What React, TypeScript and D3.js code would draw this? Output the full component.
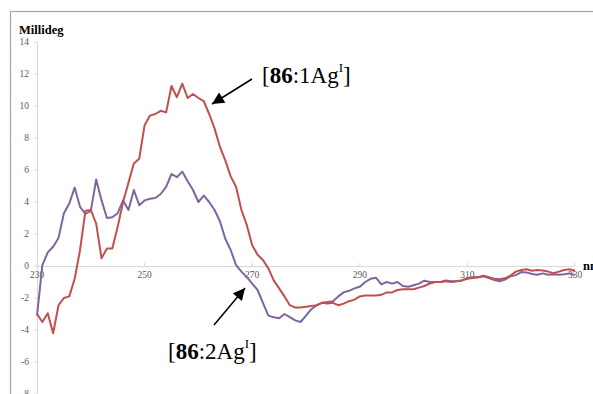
import React from "react";
import * as d3 from "d3";

const wavelengths: number[] = d3.range(230, 331);

const red1Ag: number[] = [
  -3.0, -3.5, -2.95, -4.2, -2.45, -2.0, -1.9, -0.8, 1.0, 3.45,
  3.5, 2.65, 0.48, 1.1, 1.1, 2.45, 4.0, 5.2, 6.4, 6.7,
  8.8, 9.4, 9.5, 9.7, 9.6, 11.25, 10.55, 11.4, 10.5, 10.75,
  10.5, 10.3, 9.5, 8.6, 7.45, 6.6, 5.6, 4.95, 3.5, 2.55,
  1.3, 0.7, 0.38, -0.15, -0.9, -1.4, -1.9, -2.45, -2.6, -2.6,
  -2.55, -2.5, -2.45, -2.3, -2.35, -2.3, -2.45, -2.35, -2.2, -2.1,
  -1.9, -1.85, -1.85, -1.85, -1.8, -1.65, -1.65, -1.5, -1.45, -1.45,
  -1.45, -1.35, -1.25, -1.1, -1.0, -1.0, -0.95, -1.0, -0.95, -0.9,
  -0.8, -0.75, -0.7, -0.6, -0.7, -0.8, -0.83, -0.77, -0.6, -0.35,
  -0.25, -0.2, -0.3, -0.25, -0.28, -0.35, -0.45, -0.35, -0.25, -0.2,
  -0.3,
];

const purple2Ag: number[] = [
  -3.1, 0.05, 0.85, 1.2, 1.75, 3.3, 3.9, 4.9, 3.7, 3.25,
  3.45, 5.4, 4.1, 3.0, 3.05, 3.3, 4.1, 3.5, 4.75, 3.8,
  4.1, 4.2, 4.25, 4.5, 4.95, 5.75, 5.55, 5.9, 5.3, 4.75,
  4.0, 4.4, 4.0, 3.5, 2.8, 1.7, 1.0, 0.06, -0.35, -0.7,
  -1.1, -1.5, -2.3, -3.1, -3.2, -3.27, -3.0, -3.2, -3.4, -3.5,
  -3.1, -2.7, -2.45, -2.3, -2.25, -2.2, -1.9, -1.65, -1.55, -1.4,
  -1.3, -1.0, -0.8, -0.73, -1.15, -1.0, -1.1, -1.0, -1.25, -1.3,
  -1.2, -1.1, -0.92, -1.0, -1.0, -1.0, -0.9, -0.95, -0.95, -0.9,
  -0.75, -0.7, -0.7, -0.65, -0.75, -0.88, -0.95, -0.85, -0.65, -0.57,
  -0.38, -0.4, -0.5, -0.55, -0.46, -0.55, -0.52, -0.55, -0.52, -0.46,
  -0.57,
];

const xTicks: number[] = [230, 250, 270, 290, 310, 330];
const yTicks: number[] = [-8, -6, -4, -2, 0, 2, 4, 6, 8, 10, 12, 14];

const W = 593;
const H = 394;

export default function App() {
  const x = d3.scaleLinear().domain([230, 330]).range([37, 575]);
  const y = d3.scaleLinear().domain([-8, 14]).range([394, 42]);
  const line = d3
    .line<number>()
    .x((_, i) => x(wavelengths[i]))
    .y((d) => y(d));
  const font = "'Liberation Serif', 'Times New Roman', serif";
  const y0 = y(0);
  return (
    <svg
      width={W}
      height={H}
      style={{ position: "absolute", left: 0, top: 0, background: "#fff" }}
      fontFamily={font}
    >
      <defs>
        <marker
          id="ah"
          viewBox="0 0 10 10"
          refX="10"
          refY="5"
          markerWidth="14"
          markerHeight="12"
          markerUnits="userSpaceOnUse"
          orient="auto"
        >
          <path d="M0,0 L10,5 L0,10 z" fill="#000" />
        </marker>
      </defs>
      <rect x={0} y={0} width={W} height={H} fill="#fff" />
      <rect x={10.5} y={11.5} width={700} height={500} fill="none" stroke="#a6a6a6" strokeWidth={1.2} />
      {/* y axis */}
      <line x1={37.5} x2={37.5} y1={y(14)} y2={H} stroke="#d9d9d9" strokeWidth={1} />
      {yTicks.map((t) => (
        <g key={t}>
          <line x1={34} x2={37.5} y1={y(t)} y2={y(t)} stroke="#d9d9d9" />
          <text x={29} y={y(t)} dy="0.35em" textAnchor="end" fontSize={9.5} fill="#595959">
            {t}
          </text>
        </g>
      ))}
      {/* x axis */}
      <line x1={x(230)} x2={x(330)} y1={y0 + 0.5} y2={y0 + 0.5} stroke="#d9d9d9" />
      {xTicks.map((t) => (
        <g key={t}>
          <line x1={x(t)} x2={x(t)} y1={y0 - 3} y2={y0 + 0.5} stroke="#d9d9d9" />
          <text x={x(t)} y={y0 + 12} textAnchor="middle" fontSize={9.5} fill="#595959">
            {t}
          </text>
        </g>
      ))}
      <text x={19} y={34} fontSize={12.5} fontWeight="bold" fill="#000">
        Millideg
      </text>
      <text x={583} y={270} fontSize={12.5} fontWeight="bold" fill="#000">
        nm
      </text>
      {/* series */}
      <path d={line(purple2Ag) || ""} fill="none" stroke="#8064a2" strokeWidth={2} strokeLinejoin="round" />
      <path d={line(red1Ag) || ""} fill="none" stroke="#c0504d" strokeWidth={2} strokeLinejoin="round" />
      {/* annotations */}
      <line x1={252} y1={79} x2={212} y2={104} stroke="#000" strokeWidth={1.5} markerEnd="url(#ah)" />
      <line x1={214} y1={325} x2={245} y2={288} stroke="#000" strokeWidth={1.5} markerEnd="url(#ah)" />
      <text x={262} y={83} fontSize={23} fill="#000">
        [<tspan fontWeight="bold">86</tspan>:1Ag
        <tspan fontSize={13} dy={-11}>I</tspan>
        <tspan dy={11}>]</tspan>
      </text>
      <text x={168} y={359} fontSize={23} fill="#000">
        [<tspan fontWeight="bold">86</tspan>:2Ag
        <tspan fontSize={13} dy={-11}>I</tspan>
        <tspan dy={11}>]</tspan>
      </text>
    </svg>
  );
}
